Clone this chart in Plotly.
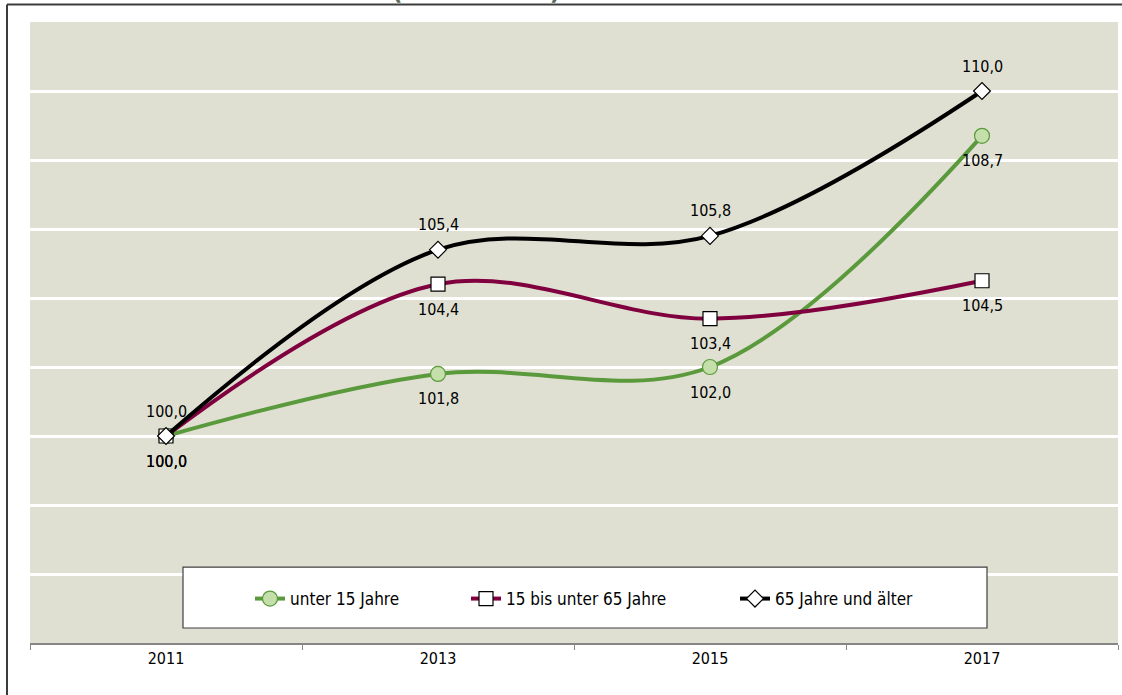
import plotly.graph_objects as go

# ---- data ----
years = ["2011", "2013", "2015", "2017"]
unter15 = [100.0, 101.8, 102.0, 108.7]
von15bis65 = [100.0, 104.4, 103.4, 104.5]
ab65 = [100.0, 105.4, 105.8, 110.0]
series_names = ["unter 15 Jahre", "15 bis unter 65 Jahre", "65 Jahre und älter"]
subtitle = "(2011 = 100)"

# ---- layout geometry (pixels) ----
W, H = 1122, 695
PL, PR, PT, PB = 30, 1118, 21.6, 643  # plot area box


def px(x):
    return (x - PL) / (PR - PL)


def py(y):
    return (PB - y) / (PB - PT)


FONT = "DejaVu Sans Condensed, Liberation Sans Narrow, DejaVu Sans, sans-serif"

styles = [
    dict(color="#5B9A3C", symbol="circle", size=15, fill="#C4DFA9", mline="#5B9A3C", side=-1),
    dict(color="#80003F", symbol="square", size=14, fill="#FFFFFF", mline="#000000", side=-1),
    dict(color="#000000", symbol="diamond", size=13, fill="#FFFFFF", mline="#000000", side=1),
]
values = [unter15, von15bis65, ab65]
legend_ids = ["legend", "legend2", "legend3"]
legend_x = [250, 466, 735]

fig = go.Figure()
annotations = []
for vals, name, st, lid in zip(values, series_names, styles, legend_ids):
    fig.add_trace(go.Scatter(
        x=years, y=vals, name=name, mode="lines+markers",
        line=dict(color=st["color"], width=4, shape="spline", smoothing=1),
        marker=dict(symbol=st["symbol"], size=st["size"], color=st["fill"],
                    line=dict(color=st["mline"], width=1.2)),
        cliponaxis=False, legend=lid, hoverinfo="skip",
    ))
    for i, yv in enumerate(vals):
        annotations.append(dict(
            x=i, y=yv, xref="x", yref="y", showarrow=False,
            text=f"{yv:.1f}".replace(".", ","), yshift=25 * st["side"],
            font=dict(family=FONT, size=16, color="#000000"),
        ))

# cut-off subtitle at the very top
annotations.append(dict(
    x=px(476), y=py(6.5), xref="paper", yref="paper", xanchor="center", yanchor="bottom",
    showarrow=False, text=f"<b>{subtitle}</b>",
    font=dict(family="DejaVu Sans", size=23, color="#5A6B5E"),
))

shapes = [
    # legend box
    dict(type="rect", xref="paper", yref="paper", x0=px(183), x1=px(987), y0=py(628), y1=py(567),
         fillcolor="#FFFFFF", line=dict(color="#404040", width=1.2), layer="above"),
    # outer frame (top and left)
    dict(type="line", xref="paper", yref="paper", x0=px(7), x1=px(1122), y0=py(4), y1=py(4),
         line=dict(color="#3C3C3C", width=2)),
    dict(type="line", xref="paper", yref="paper", x0=px(7), x1=px(7), y0=py(4), y1=py(695),
         line=dict(color="#3C3C3C", width=2)),
]

legend_common = dict(orientation="h", xanchor="left", yanchor="middle", y=py(599),
                     bgcolor="rgba(0,0,0,0)", borderwidth=0,
                     font=dict(family=FONT, size=17, color="#000000"))

fig.update_layout(
    width=W, height=H,
    margin=dict(l=PL, r=W - PR, t=PT, b=H - PB, pad=0),
    paper_bgcolor="#FFFFFF", plot_bgcolor="#DFE0D2",
    showlegend=True,
    legend=dict(x=px(legend_x[0]), **legend_common),
    legend2=dict(x=px(legend_x[1]), **legend_common),
    legend3=dict(x=px(legend_x[2]), **legend_common),
    xaxis=dict(type="category", categoryorder="array", categoryarray=years,
               range=[-0.5, 3.5], showgrid=False, zeroline=False,
               showline=True, linecolor="#868686", linewidth=1.5,
               ticks="outside", tickson="boundaries", ticklen=5, tickcolor="#868686",
               tickfont=dict(family=FONT, size=16, color="#000000")),
    yaxis=dict(range=[94, 112], dtick=2, tick0=94, showgrid=True, gridcolor="#FFFFFF",
               gridwidth=3, showticklabels=False, zeroline=False, showline=False, ticks=""),
    annotations=annotations, shapes=shapes,
)

fig.write_html("out.html", config={"displayModeBar": False},
               post_script="document.body.style.margin='0';document.body.style.overflow='hidden';")
